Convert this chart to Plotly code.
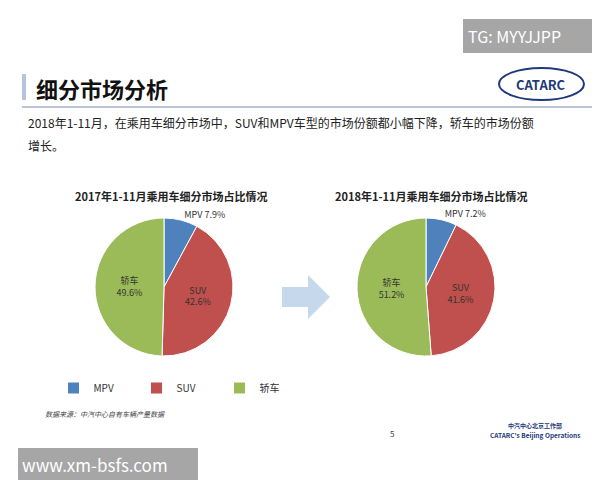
import plotly.graph_objects as go

# segment shares
categories = ["MPV", "SUV", "轿车"]
share_2017 = [7.9, 42.6, 49.6]
share_2018 = [7.2, 41.6, 51.2]
colors = ["#4f81bd", "#c0504d", "#9bbb59"]

FONT = "Noto Sans CJK SC"
W, H = 600, 480

def px(x):
    return x / W

def py(y):
    return 1 - y / H

def pie(vals, xd):
    return go.Pie(
        labels=categories, values=vals, sort=False, direction="clockwise", rotation=0,
        marker=dict(colors=colors, line=dict(color="white", width=1)),
        texttemplate=["%{label} %{value}%", "%{label}<br>%{value}%", "%{label}<br>%{value}%"],
        textposition=["outside", "inside", "inside"],
        insidetextorientation="horizontal",
        textfont=dict(size=9, color="#333333", family=FONT),
        domain=dict(x=xd, y=[py(348), py(210)]),
        showlegend=True, hoverinfo="label+value",
    )

fig = go.Figure()
fig.add_trace(pie(share_2017, [px(87), px(225)]))
fig.add_trace(pie(share_2018, [px(349), px(487)]))
fig.data[1].legend = "legend2"

leg = dict(orientation="h", font=dict(size=10, family=FONT, color="#333"), itemwidth=30,
           entrywidth=38, bgcolor="rgba(0,0,0,0)", yanchor="middle", xanchor="center")
fig.update_layout(
    width=W, height=H, margin=dict(l=0, r=0, t=0, b=0),
    paper_bgcolor="white", plot_bgcolor="white",
    legend=dict(leg, x=px(170), y=py(380)),
    legend2=dict(leg, x=px(432), y=py(380)),
    font=dict(family=FONT),
)

shapes = [
    dict(type="rect", x0=px(455), x1=px(592), y0=py(11), y1=py(45), fillcolor="#a6a6a6", line_width=0),
    dict(type="rect", x0=px(10), x1=px(190), y0=py(440), y1=py(472), fillcolor="#a6a6a6", line_width=0),
    dict(type="rect", x0=px(14), x1=px(18), y0=py(66), y1=py(92), fillcolor="#b4c3de", line_width=0),
    dict(type="line", x0=px(14), x1=px(600), y0=py(99), y1=py(99), line=dict(color="#b8c4d8", width=2)),
    dict(type="circle", x0=px(491), x1=px(576), y0=py(60), y1=py(92), line=dict(color="#1f3a7a", width=2)),
    dict(type="path", path=f"M {px(274)} {py(279)} L {px(300)} {py(279)} L {px(300)} {py(267)} "
         f"L {px(322)} {py(289)} L {px(300)} {py(311)} L {px(300)} {py(299)} L {px(274)} {py(299)} Z",
         fillcolor="#c6d9ec", line_width=0),
]
for s in shapes:
    s["xref"] = "paper"
    s["yref"] = "paper"
fig.update_layout(shapes=shapes)

def note(x, y, text, size, color="#222", anchor="left"):
    fig.add_annotation(x=px(x), y=py(y), xref="paper", yref="paper", text=text, showarrow=False,
                       xanchor=anchor, yanchor="middle", font=dict(size=size, color=color, family=FONT))

note(458, 28, "TG: MYYJJPP", 16, "white")
note(12, 456, "www.xm-bsfs.com", 17, "white")
note(26, 80, "<b>细分市场分析</b>", 22, "#111")
note(533, 76, "<b>CATARC</b>", 13, "#1f3a7a", anchor="center")
note(18, 114, "2018年1-11月，在乘用车细分市场中，SUV和MPV车型的市场份额都小幅下降，轿车的市场份额", 12, "#222")
note(18, 137, "增长。", 12, "#222")
note(163, 188, "<b>2017年1-11月乘用车细分市场占比情况</b>", 11, "#222", anchor="center")
note(423, 188, "<b>2018年1-11月乘用车细分市场占比情况</b>", 11, "#222", anchor="center")
note(35, 406, "<i>数据来源：中汽中心自有车辆产量数据</i>", 7, "#444")
note(380, 425, "5", 8, "#444")
note(527, 417, "<b>中汽中心北京工作部</b>", 6, "#1f3a7a", anchor="center")
note(527, 427, "<b>CATARC's Beijing Operations</b>", 6.5, "#1f3a7a", anchor="center")

fig.write_html("out.html")
